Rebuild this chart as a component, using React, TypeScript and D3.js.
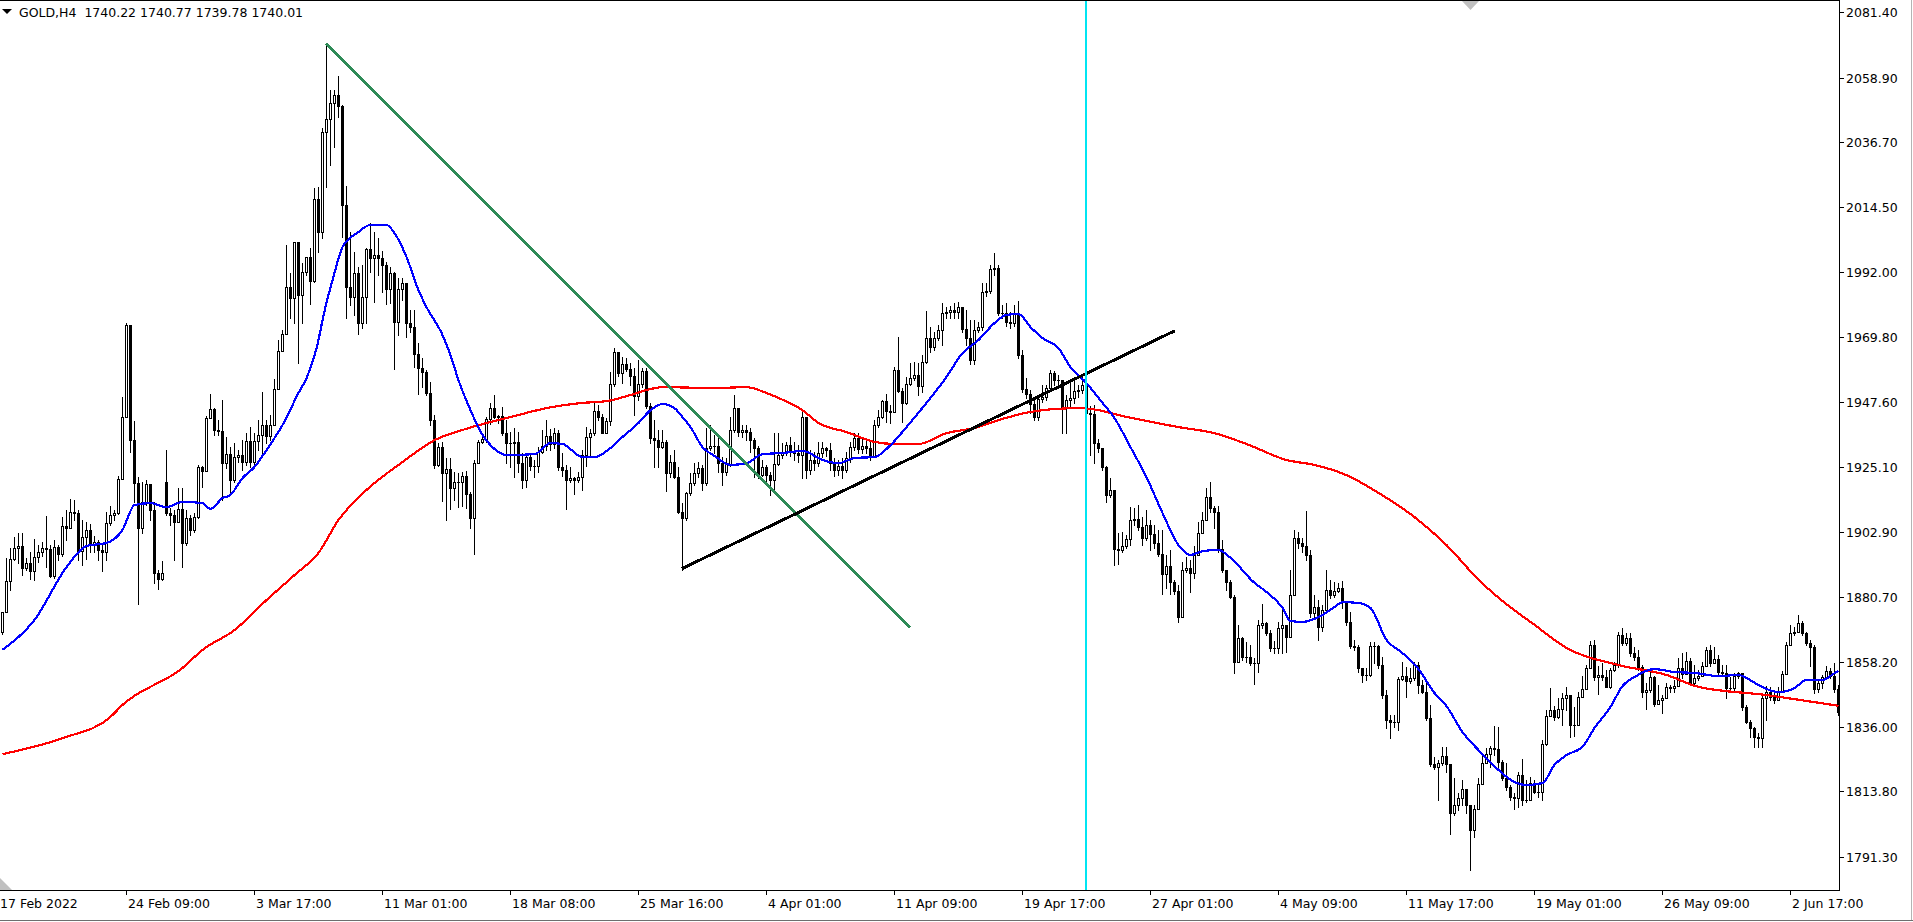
import React from "react";
import * as d3 from "d3";

const W = 1913;
const H = 922;

// ---------- data (GOLD, H4) ----------
const firstOpen = 1868.5;
const gapOpens: [number, number][] = [[41, 1920.0]];

const closes = [
1875.4,1886.0,1893.6,1897.4,1898.1,1890.5,1892.2,1889.5,1894.3,1896.0,
1897.4,1897.0,1887.8,1897.7,1895.3,1904.9,1904.2,1909.7,1909.4,1896.3,
1901.1,1903.6,1898.4,1899.4,1896.7,1896.0,1906.0,1908.7,1909.4,1921.1,
1942.3,1973.9,1934.4,1919.7,1904.2,1913.2,1919.3,1910.4,1888.8,1886.7,
1888.8,1909.4,1908.7,1906.3,1910.8,1899.1,1907.7,1903.6,1908.0,1925.2,
1923.8,1942.0,1945.1,1937.9,1937.5,1926.5,1929.6,1920.7,1928.6,1929.3,
1926.9,1934.1,1926.9,1934.1,1936.2,1939.6,1935.8,1939.6,1952.0,1965.0,
1970.8,1987.0,1983.2,2002.4,1984.2,1992.1,1997.3,1989.0,2017.2,2005.9,
2040.2,2044.6,2050.1,2052.9,2049.1,2015.1,1987.0,1983.5,1991.8,1974.6,
1983.5,2000.0,1996.9,1998.0,1996.9,1994.5,1986.3,1991.8,1975.0,1986.3,
1988.3,1974.6,1973.2,1964.0,1959.2,1957.8,1950.6,1941.3,1925.9,1932.0,
1923.1,1924.5,1918.0,1920.0,1920.0,1922.1,1915.9,1907.7,1926.5,1933.8,
1934.8,1941.7,1945.4,1942.3,1942.7,1936.8,1933.4,1933.4,1933.8,1926.5,
1920.7,1928.6,1925.5,1925.5,1930.3,1932.4,1935.8,1933.1,1936.8,1925.2,
1924.1,1920.7,1921.4,1920.7,1921.7,1929.3,1935.5,1936.8,1944.4,1942.3,
1936.8,1941.0,1953.7,1964.7,1957.5,1960.5,1958.8,1956.4,1949.6,1953.7,
1958.1,1946.1,1935.1,1934.4,1932.0,1933.8,1923.1,1926.9,1921.7,1909.7,
1907.7,1916.3,1919.7,1923.1,1924.8,1919.7,1931.7,1932.4,1932.4,1926.5,
1923.5,1926.2,1937.9,1945.4,1937.2,1937.9,1937.2,1934.4,1931.7,1922.4,
1925.2,1922.4,1920.7,1926.2,1929.3,1930.0,1932.7,1930.3,1930.0,1929.3,
1942.3,1924.1,1927.6,1926.5,1930.0,1931.7,1931.0,1926.5,1924.1,1925.5,
1924.1,1928.3,1932.0,1935.1,1931.4,1932.4,1931.7,1928.6,1939.6,1942.3,
1947.8,1944.4,1944.1,1958.5,1951.3,1947.2,1953.7,1955.7,1956.8,1953.0,
1961.2,1969.5,1966.4,1969.5,1972.2,1978.0,1978.4,1979.1,1978.4,1980.1,
1972.6,1969.5,1961.9,1972.2,1973.2,1985.3,1985.6,1993.2,1993.5,1978.0,
1978.0,1975.0,1974.6,1978.0,1963.6,1952.0,1950.2,1946.8,1942.3,1948.5,
1949.2,1952.3,1957.5,1955.0,1955.0,1945.4,1948.2,1948.9,1951.3,1951.6,
1953.3,1943.7,1943.4,1933.4,1931.7,1925.2,1915.6,1917.3,1897.0,1896.7,
1898.1,1900.5,1907.0,1907.3,1904.6,1900.8,1905.3,1902.2,1899.1,1895.3,
1888.4,1891.2,1885.7,1882.6,1873.7,1889.8,1890.5,1888.8,1895.0,1902.5,
1907.0,1914.9,1911.1,1909.7,1897.0,1889.8,1885.7,1880.5,1858.2,1866.5,
1860.0,1860.0,1857.9,1857.9,1871.0,1871.6,1868.2,1863.0,1863.0,1869.9,
1871.0,1866.8,1881.2,1900.8,1899.1,1898.1,1895.0,1875.1,1877.1,1870.3,
1876.1,1883.0,1881.2,1882.6,1883.6,1878.8,1872.0,1863.7,1863.4,1856.2,
1853.8,1853.8,1863.7,1863.7,1857.2,1846.9,1838.3,1837.6,1837.6,1852.4,
1853.4,1851.7,1852.7,1857.2,1850.3,1847.9,1839.0,1823.2,1822.2,1823.6,
1826.0,1823.2,1806.4,1809.1,1811.5,1814.6,1809.1,1800.5,1807.8,1816.4,
1823.6,1826.7,1828.7,1828.4,1823.9,1818.4,1815.3,1811.9,1811.5,1819.4,
1810.9,1810.9,1816.7,1813.6,1813.6,1830.1,1839.7,1841.8,1839.3,1842.1,
1845.9,1846.9,1836.6,1836.6,1846.2,1849.0,1856.2,1864.1,1853.1,1853.8,
1853.1,1849.7,1855.5,1857.2,1867.5,1864.8,1866.5,1861.3,1860.0,1856.5,
1847.9,1848.6,1853.1,1843.8,1845.2,1845.9,1849.7,1849.3,1850.0,1856.2,
1854.1,1858.6,1851.0,1852.7,1853.4,1856.9,1862.4,1857.9,1859.3,1854.8,
1854.5,1849.3,1849.3,1853.4,1854.5,1842.8,1837.6,1835.6,1832.5,1832.2,
1845.9,1847.9,1846.2,1845.2,1847.9,1854.1,1864.1,1868.2,1868.5,1871.6,
1868.2,1864.8,1863.4,1849.0,1851.0,1853.1,1855.2,1853.4,1849.0,1841.2,
];

const highs = [
1875.4,1893.9,1897.4,1901.1,1902.5,1902.5,1893.9,1896.0,1900.5,1898.4,
1899.4,1908.4,1898.4,1900.1,1898.4,1908.0,1910.4,1914.2,1913.9,1910.4,
1907.0,1906.3,1905.6,1901.5,1900.1,1898.4,1909.7,1911.8,1910.4,1922.1,
1949.2,1974.6,1973.9,1941.0,1921.7,1920.0,1920.7,1919.3,1913.2,1889.8,
1892.9,1931.0,1911.1,1910.4,1918.0,1918.0,1910.4,1908.7,1909.4,1925.9,
1925.5,1942.7,1950.2,1945.4,1941.3,1948.2,1935.5,1932.0,1933.4,1931.0,
1934.4,1936.8,1938.9,1936.8,1941.3,1950.9,1941.3,1943.0,1955.4,1968.8,
1972.2,2001.4,1991.8,2002.4,2002.4,1995.2,1997.3,2000.4,2021.0,2021.3,
2041.6,2070.7,2054.6,2054.6,2059.4,2049.5,2021.6,2005.9,1999.0,1993.8,
1994.5,2000.4,2009.0,2005.9,2003.8,1999.3,1995.6,1993.8,1992.1,1990.1,
1990.1,1987.7,1979.1,1979.1,1967.7,1962.6,1958.5,1954.4,1943.0,1933.4,
1933.8,1928.3,1928.3,1923.5,1923.1,1923.5,1923.8,1916.6,1927.6,1934.4,
1935.5,1942.3,1947.2,1949.9,1943.0,1945.8,1941.3,1937.2,1938.6,1937.2,
1930.0,1929.3,1929.3,1927.6,1932.0,1937.9,1941.3,1938.2,1938.6,1937.9,
1930.0,1925.9,1925.2,1921.7,1923.5,1931.0,1938.9,1938.2,1947.5,1946.5,
1943.4,1942.0,1957.8,1966.0,1964.7,1962.9,1962.6,1960.9,1959.2,1961.9,
1959.2,1959.2,1947.2,1941.3,1937.9,1937.9,1934.4,1929.3,1931.0,1925.2,
1912.8,1916.6,1923.1,1926.5,1926.9,1925.9,1938.6,1939.6,1936.2,1935.5,
1928.6,1928.3,1942.3,1949.9,1945.4,1939.6,1939.6,1938.6,1935.1,1932.4,
1927.6,1925.9,1923.5,1936.8,1936.8,1933.4,1933.8,1935.5,1933.8,1932.7,
1944.1,1942.3,1931.0,1930.3,1933.8,1933.8,1932.0,1933.4,1928.3,1927.6,
1928.3,1930.3,1933.8,1936.8,1936.8,1935.1,1934.4,1934.4,1941.3,1944.7,
1948.2,1950.2,1946.5,1959.5,1969.8,1952.3,1956.1,1960.9,1961.2,1960.9,
1963.6,1978.7,1973.2,1971.5,1973.9,1981.5,1980.1,1980.4,1981.5,1981.8,
1980.1,1979.1,1975.6,1975.6,1975.0,1988.3,1988.3,1994.5,1998.6,1994.5,
1980.8,1981.5,1978.4,1980.8,1982.2,1965.3,1955.7,1951.6,1948.2,1949.9,
1953.3,1953.3,1958.5,1958.1,1956.8,1955.0,1949.9,1955.0,1955.0,1953.3,
1956.1,1955.7,1946.1,1946.5,1934.8,1931.7,1925.5,1921.4,1917.3,1902.5,
1902.9,1901.8,1911.4,1911.1,1912.1,1908.0,1910.4,1907.0,1905.3,1903.6,
1903.6,1895.0,1896.7,1886.4,1884.7,1892.6,1894.3,1893.3,1898.1,1906.3,
1909.7,1918.0,1920.0,1911.8,1911.8,1900.1,1889.8,1886.4,1881.2,1870.9,
1866.8,1865.1,1864.1,1859.6,1872.7,1878.2,1872.0,1869.2,1865.4,1872.0,
1876.8,1868.5,1889.8,1903.6,1902.9,1900.8,1910.1,1896.7,1881.2,1879.5,
1877.8,1889.8,1886.4,1885.7,1885.4,1886.0,1879.2,1875.4,1865.8,1864.1,
1856.2,1856.2,1865.1,1865.1,1864.1,1860.0,1848.6,1840.0,1840.0,1853.1,
1858.2,1856.5,1856.2,1858.2,1858.2,1852.1,1852.1,1843.5,1825.6,1824.6,
1829.1,1829.1,1823.2,1818.4,1813.3,1817.7,1814.6,1809.1,1809.1,1818.4,
1826.3,1828.7,1829.4,1836.3,1835.9,1824.6,1823.6,1816.0,1813.3,1820.5,
1824.9,1817.7,1818.8,1817.7,1816.7,1831.5,1841.8,1849.3,1843.1,1845.9,
1847.6,1849.6,1846.9,1842.8,1847.9,1853.4,1857.2,1865.4,1865.8,1856.9,
1857.9,1855.5,1856.2,1858.2,1868.5,1869.9,1868.2,1868.2,1863.4,1862.4,
1857.2,1851.0,1855.5,1853.4,1850.3,1846.9,1851.0,1850.3,1852.1,1859.6,
1861.3,1861.7,1859.6,1857.2,1855.5,1858.2,1863.4,1864.1,1863.4,1860.6,
1857.2,1857.2,1853.1,1854.5,1854.8,1852.1,1843.5,1838.3,1835.9,1833.9,
1846.9,1850.0,1849.6,1847.9,1849.6,1855.2,1865.1,1870.9,1870.2,1874.4,
1872.3,1868.5,1865.8,1864.1,1852.1,1853.8,1856.9,1856.2,1857.9,1850.3,
];

const lows = [
1867.9,1875.4,1883.0,1893.3,1892.2,1888.1,1889.8,1886.7,1886.4,1892.6,
1894.6,1890.8,1887.4,1887.1,1893.3,1894.6,1900.1,1905.6,1907.0,1893.3,
1891.5,1893.6,1896.0,1896.0,1893.3,1889.5,1893.3,1905.3,1907.0,1909.0,
1921.1,1942.3,1930.3,1913.2,1878.2,1902.5,1912.1,1907.0,1885.4,1883.3,
1886.4,1908.7,1905.3,1893.3,1906.3,1890.8,1898.4,1901.8,1902.9,1907.7,
1918.3,1923.8,1942.0,1936.2,1936.2,1913.9,1924.8,1915.6,1920.0,1926.9,
1924.1,1925.9,1925.2,1925.9,1931.0,1930.0,1933.4,1934.4,1940.6,1952.0,
1965.0,1974.6,1976.3,1974.6,1960.9,1974.6,1991.1,1981.1,1988.7,1999.0,
2003.8,2021.3,2028.9,2035.0,2045.3,2004.1,1976.3,1980.8,1977.4,1970.8,
1972.9,1974.6,1992.1,1981.8,1991.1,1985.3,1981.1,1981.5,1958.8,1970.5,
1982.5,1969.8,1971.5,1959.5,1950.2,1952.6,1949.9,1939.6,1924.8,1925.5,
1913.5,1907.0,1910.8,1913.9,1911.4,1911.8,1911.1,1904.2,1895.3,1927.6,
1933.4,1933.8,1940.0,1942.0,1940.3,1936.2,1926.5,1925.2,1921.7,1923.5,
1918.0,1918.3,1924.1,1921.7,1923.5,1930.0,1931.0,1931.0,1931.7,1924.1,
1922.1,1910.8,1920.0,1915.9,1920.0,1917.3,1925.5,1928.6,1936.2,1941.3,
1936.8,1937.2,1939.6,1953.0,1956.4,1954.0,1958.1,1953.3,1943.0,1948.2,
1952.6,1945.4,1933.4,1925.2,1925.2,1931.7,1916.9,1921.7,1921.4,1909.4,
1889.8,1907.0,1915.6,1919.0,1921.7,1917.3,1919.0,1931.0,1930.0,1923.5,
1919.0,1922.4,1925.5,1937.2,1935.8,1935.5,1934.4,1930.3,1921.7,1921.4,
1922.1,1919.7,1915.6,1917.3,1925.9,1928.3,1929.3,1928.9,1927.6,1926.9,
1921.4,1921.4,1922.8,1924.1,1925.5,1928.6,1929.0,1924.1,1922.1,1922.4,
1921.4,1923.5,1926.9,1931.0,1930.0,1930.0,1930.0,1927.6,1928.6,1938.9,
1942.0,1940.6,1940.3,1944.1,1950.9,1940.6,1946.8,1953.3,1955.0,1949.9,
1950.9,1960.9,1964.7,1965.3,1968.8,1967.1,1976.3,1976.3,1976.3,1976.3,
1971.5,1967.1,1960.5,1960.5,1971.5,1972.2,1983.9,1984.9,1991.1,1977.4,
1976.3,1973.6,1972.9,1973.6,1962.6,1950.9,1948.9,1943.7,1941.3,1941.3,
1947.5,1948.2,1951.6,1953.3,1952.3,1936.8,1936.8,1945.4,1947.2,1949.2,
1950.6,1941.3,1929.3,1926.5,1930.3,1924.1,1913.2,1914.9,1891.5,1891.9,
1896.0,1897.4,1898.4,1905.3,1903.6,1898.4,1900.1,1896.7,1897.4,1894.6,
1881.6,1883.6,1881.6,1881.6,1872.0,1873.7,1889.1,1882.3,1887.1,1895.0,
1902.5,1907.0,1909.7,1904.2,1896.0,1889.1,1883.0,1880.2,1854.5,1858.2,
1858.9,1858.2,1857.2,1850.7,1854.8,1869.9,1867.5,1862.0,1861.3,1861.3,
1861.3,1861.7,1866.8,1881.2,1897.4,1896.0,1893.3,1873.7,1873.7,1865.8,
1868.9,1875.4,1880.2,1880.5,1882.3,1876.8,1871.0,1863.0,1862.4,1854.8,
1851.4,1852.1,1853.4,1857.9,1856.2,1845.9,1835.6,1832.1,1835.9,1834.9,
1852.1,1846.2,1851.0,1852.1,1847.6,1847.6,1838.3,1822.5,1821.5,1810.9,
1822.9,1820.5,1799.2,1805.7,1807.4,1809.1,1806.4,1786.8,1798.2,1807.8,
1816.4,1823.6,1822.2,1826.3,1821.8,1817.7,1814.3,1810.9,1807.8,1808.5,
1809.1,1810.2,1813.6,1813.3,1811.9,1810.9,1829.7,1839.7,1838.3,1839.0,
1836.6,1841.8,1832.5,1832.8,1836.6,1846.2,1849.0,1856.2,1852.1,1847.2,
1852.1,1849.7,1849.3,1855.2,1856.5,1864.1,1864.1,1860.3,1858.9,1855.5,
1846.2,1842.1,1847.9,1843.1,1844.2,1840.7,1845.9,1847.9,1847.9,1850.0,
1852.7,1854.1,1850.3,1850.3,1852.1,1853.4,1856.9,1856.9,1857.9,1854.1,
1853.4,1845.9,1847.9,1848.6,1852.7,1841.8,1837.3,1832.5,1829.1,1829.1,
1829.1,1838.3,1845.2,1844.2,1845.2,1847.9,1854.1,1864.1,1867.5,1868.5,
1867.5,1864.1,1856.9,1847.6,1847.9,1849.3,1852.7,1852.7,1847.9,1840.2,
];

// moving averages: [bar index, value]
const blueMA: [number, number][] = [
[0,1862.4],[8,1872.7],[16,1890.8],[21,1898.1],[26,1899.1],[30,1903.6],[33,1912.1],
[37,1912.8],[41,1911.4],[45,1913.2],[50,1912.8],[52,1910.8],[55,1914.5],[57,1915.6],
[60,1921.4],[63,1925.2],[66,1931.0],[70,1939.6],[74,1950.6],[76,1955.7],[79,1968.8],
[80,1975.6],[83,1991.8],[85,2000.7],[89,2005.9],[92,2008.3],[96,2008.3],[98,2005.5],
[101,1997.3],[104,1985.9],[106,1980.1],[110,1970.5],[112,1963.6],[114,1955.0],
[117,1944.7],[120,1936.2],[122,1932.7],[126,1929.3],[133,1929.6],[137,1933.4],
[140,1933.1],[145,1928.6],[148,1928.6],[152,1931.7],[155,1935.5],[159,1940.3],
[162,1944.7],[165,1946.8],[168,1945.4],[170,1942.3],[172,1938.9],[175,1932.0],
[178,1929.0],[182,1925.9],[186,1926.5],[190,1929.6],[195,1930.0],[200,1930.7],
[205,1927.6],[209,1926.5],[213,1928.3],[218,1928.6],[222,1932.7],[226,1938.9],
[231,1947.2],[236,1956.1],[240,1964.3],[244,1968.8],[248,1974.6],[251,1977.4],
[254,1977.7],[257,1973.2],[260,1969.5],[264,1966.0],[267,1959.5],[271,1954.0],
[275,1947.2],[278,1942.0],[282,1932.0],[286,1921.7],[290,1909.4],[294,1898.4],
[297,1895.0],[300,1896.3],[304,1896.7],[307,1894.0],[313,1885.4],[316,1882.3],
[320,1876.8],[322,1872.3],[325,1872.0],[330,1874.4],[333,1877.1],[335,1878.8],
[339,1878.5],[342,1876.8],[346,1865.8],[350,1861.3],[354,1855.8],[358,1847.6],
[361,1843.1],[365,1834.2],[369,1828.0],[374,1821.2],[378,1817.0],[381,1816.0],
[385,1816.7],[388,1822.9],[391,1826.3],[395,1829.1],[398,1835.6],[402,1842.8],
[405,1850.0],[408,1853.1],[413,1855.8],[418,1854.8],[423,1854.5],[429,1853.4],
[434,1853.8],[436,1852.7],[440,1849.6],[444,1847.9],[448,1849.3],[451,1852.1],
[455,1852.1],[458,1854.4],[459,1855.1],
];

const redMA: [number, number][] = [
[0,1826.6],[15,1832.1],[27,1839.4],[30,1843.5],[45,1856.2],[50,1862.4],[58,1869.2],
[66,1879.5],[73,1888.1],[79,1895.7],[84,1907.0],[91,1917.3],[100,1926.9],[108,1934.4],
[115,1937.9],[128,1942.7],[136,1945.4],[145,1947.2],[151,1947.8],[157,1949.9],
[161,1951.6],[165,1952.6],[178,1952.3],[186,1952.6],[191,1950.6],[194,1948.9],
[200,1944.7],[204,1940.3],[211,1937.2],[218,1933.8],[223,1933.1],[229,1933.1],
[236,1936.8],[243,1938.6],[249,1941.3],[257,1944.1],[263,1945.1],[269,1945.4],
[274,1944.7],[279,1943.0],[286,1941.0],[294,1938.9],[303,1936.8],[311,1933.1],
[321,1927.6],[328,1925.9],[336,1922.4],[344,1916.3],[353,1908.0],[361,1898.4],
[369,1886.5],[374,1880.3],[383,1871.0],[391,1863.1],[404,1857.2],[416,1853.8],
[424,1849.7],[441,1846.9],[449,1845.3],[459,1843.2],
];

// drawn objects
const greenTrend: [number, number][] = [[81, 2070.7], [227, 1870.0]];
const blackTrend: [number, number][] = [[170, 1890.3], [293.25, 1972.0]];
const cyanBar = 271;

// axes
const priceTicks = [2081.4, 2058.9, 2036.7, 2014.5, 1992.0, 1969.8, 1947.6, 1925.1, 1902.9, 1880.7, 1858.2, 1836.0, 1813.8, 1791.3];
const timeTickBars = [-1, 31, 63, 95, 127, 159, 191, 223, 255, 287, 319, 351, 383, 415, 447];
const timeTickLabels = ["17 Feb 2022", "24 Feb 09:00", "3 Mar 17:00", "11 Mar 01:00", "18 Mar 08:00", "25 Mar 16:00", "4 Apr 01:00", "11 Apr 09:00", "19 Apr 17:00", "27 Apr 01:00", "4 May 09:00", "11 May 17:00", "19 May 01:00", "26 May 09:00", "2 Jun 17:00"];
const headerText = "GOLD,H4  1740.22 1740.77 1739.78 1740.01";

export default function App() {
  const plotRight = 1839;
  const plotBottom = 890;
  const n = closes.length;
  const x = d3.scaleLinear().domain([0, n - 1]).range([2, 2 + 4 * (n - 1)]);
  const y = d3.scaleLinear().domain([1791.3, 2081.4]).range([857, 12]);
  const gapMap = new Map(gapOpens);

  const candles = closes.map((c, i) => {
    const o = i === 0 ? firstOpen : gapMap.has(i) ? (gapMap.get(i) as number) : closes[i - 1];
    const hi = Math.max(highs[i], o, c);
    const lo = Math.min(lows[i], o, c);
    const cx = Math.round(x(i));
    const top = Math.round(y(Math.max(o, c)));
    const bot = Math.round(y(Math.min(o, c)));
    const yh = Math.round(y(hi));
    const yl = Math.round(y(lo));
    const bull = c >= o;
    return (
      <g key={i}>
        <rect x={cx} y={yh} width={1} height={yl - yh + 1} fill="#000" />
        <rect x={cx - 1} y={top} width={3} height={bot - top + 1} fill="#000" />
        {bull && bot - top > 1 ? <rect x={cx} y={top + 1} width={1} height={bot - top - 1} fill="#fff" /> : null}
      </g>
    );
  });

  const maLine = d3
    .line<[number, number]>()
    .x((d) => x(d[0]) + 0.5)
    .y((d) => y(d[1]))
    .curve(d3.curveMonotoneX);

  const font = "'DejaVu Sans', Verdana, sans-serif";

  return (
    <svg
      width={W}
      height={H}
      style={{ position: "absolute", left: 0, top: 0, display: "block", background: "#fff" }}
      fontFamily={font}
    >
      <rect x={0} y={0} width={W} height={H} fill="#fff" />
      <defs>
        <clipPath id="plot">
          <rect x={0} y={0} width={plotRight} height={plotBottom} />
        </clipPath>
      </defs>

      <g clipPath="url(#plot)" shapeRendering="crispEdges">
        {candles}
      </g>

      <g clipPath="url(#plot)" fill="none" shapeRendering="crispEdges">
        <path d={maLine(redMA) || ""} stroke="#ff0000" strokeWidth={2.2} />
        <path d={maLine(blueMA) || ""} stroke="#0000ff" strokeWidth={2.2} />
        <line
          x1={x(greenTrend[0][0])}
          y1={y(greenTrend[0][1])}
          x2={x(greenTrend[1][0])}
          y2={y(greenTrend[1][1])}
          stroke="#2e8b57"
          strokeWidth={2.6}
        />
        <line
          x1={x(blackTrend[0][0])}
          y1={y(blackTrend[0][1])}
          x2={x(blackTrend[1][0])}
          y2={y(blackTrend[1][1])}
          stroke="#000"
          strokeWidth={3}
        />
        <line x1={x(cyanBar)} y1={0} x2={x(cyanBar)} y2={plotBottom} stroke="#00e5f2" strokeWidth={2} />
      </g>

      {/* frame */}
      <g shapeRendering="crispEdges" stroke="#000" strokeWidth={1}>
        <line x1={0} y1={0.5} x2={plotRight + 1} y2={0.5} />
        <line x1={plotRight + 0.5} y1={0} x2={plotRight + 0.5} y2={plotBottom + 1} />
        <line x1={0} y1={plotBottom + 0.5} x2={plotRight + 1} y2={plotBottom + 0.5} />
      </g>

      {/* price axis */}
      <g shapeRendering="crispEdges">
        {priceTicks.map((p) => {
          const ty = Math.round(y(p));
          return (
            <g key={p}>
              <rect x={plotRight + 1} y={ty} width={4} height={1} fill="#000" />
              <text x={1846} y={ty + 4.6} fontSize={12.5} fill="#000">
                {p.toFixed(2)}
              </text>
            </g>
          );
        })}
      </g>

      {/* time axis */}
      <g shapeRendering="crispEdges">
        {timeTickBars.map((b, i) => {
          const tx = Math.round(x(b));
          return (
            <g key={b}>
              <rect x={tx} y={plotBottom + 1} width={1} height={4} fill="#000" />
              <text x={tx + 2} y={907.5} fontSize={12.5} fill="#000">
                {timeTickLabels[i]}
              </text>
            </g>
          );
        })}
      </g>

      {/* header */}
      <polygon points="2,9 12,9 7,14" fill="#000" />
      <text x={19} y={17} fontSize={12.5} fill="#000" style={{ whiteSpace: "pre" }} xmlSpace="preserve">
        {headerText}
      </text>

      {/* markers */}
      <polygon points="1462,1 1479,1 1470.5,10" fill="#c0c0c0" />
      <polygon points="0,878 0,890 12,890" fill="#c0c0c0" />

      {/* window edges */}
      <g shapeRendering="crispEdges">
        <line x1={1911.5} y1={0} x2={1911.5} y2={921} stroke="#b4b4b4" />
        <line x1={0} y1={920.5} x2={W} y2={920.5} stroke="#6e6e6e" />
      </g>
    </svg>
  );
}
